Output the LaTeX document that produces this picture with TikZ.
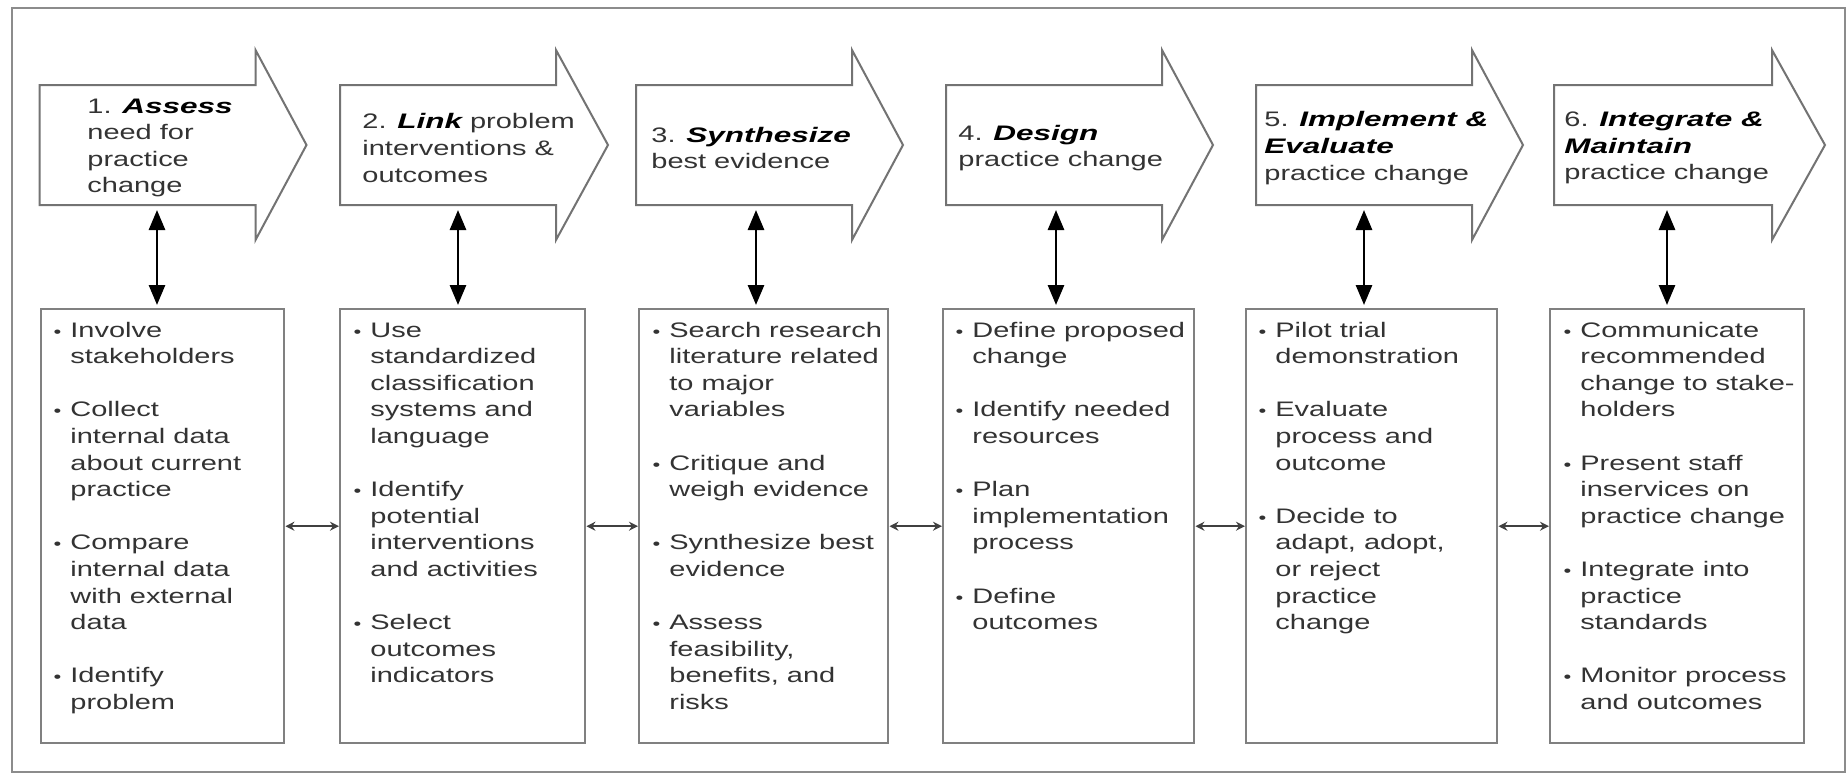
\documentclass[tikz,border=0pt]{standalone}
\usepackage{fontspec}
\setmainfont{Liberation Sans}[FakeStretch=1.38]
\newfontfamily\keyfont{Liberation Sans}[FakeStretch=1.5]
\usepackage{tikz}
\usetikzlibrary{arrows.meta}
\newcommand{\bul}{\llap{{\fontsize{8}{8}\selectfont\textbullet}\hspace{4.5pt}}}
\newcommand{\key}[1]{{\keyfont\bfseries\itshape\color{black}#1}}
\tikzset{
  font=\fontsize{10.5}{13.3}\selectfont,
  frame/.style={draw=black!45, line width=1pt},
  stepbody/.style={draw=black!55, line width=1pt, line join=miter},
  listbox/.style={draw=black!50, line width=1.2pt, rectangle, inner sep=0pt, anchor=north west},
  steptext/.style={anchor=west, align=left, inner sep=0pt, text=black!80},
  itemtext/.style={anchor=north west, align=left, inner sep=0pt, text=black!80},
  link/.style={draw=black, line width=1.4pt, {Triangle[length=10pt,width=8pt]}-{Triangle[length=10pt,width=8pt]}},
  pass/.style={draw=black!75, line width=0.9pt, {Stealth[length=4.5pt,width=4.5pt]}-{Stealth[length=4.5pt,width=4.5pt]}},
}
\begin{document}
\begin{tikzpicture}[x=0.5pt,y=-0.5pt]
\def\bh{217pt}
\def\gap{\\[13.3pt]}
\fill[white] (0,0) rectangle (1848,776);
\useasboundingbox (0,0) rectangle (1848,776);
% outer frame
\draw[frame] (12,8) rectangle (1845,772);
% step arrows
\draw[stepbody] (39.5,85) -- (255.5,85) -- (255.5,50) -- (306.5,145) -- (255.5,240) -- (255.5,205) -- (39.5,205) -- cycle;
\draw[stepbody] (340,85) -- (556,85) -- (556,50) -- (608,145) -- (556,240) -- (556,205) -- (340,205) -- cycle;
\draw[stepbody] (636,85) -- (852,85) -- (852,50) -- (903,145) -- (852,240) -- (852,205) -- (636,205) -- cycle;
\draw[stepbody] (946,85) -- (1162,85) -- (1162,50) -- (1213,145) -- (1162,240) -- (1162,205) -- (946,205) -- cycle;
\draw[stepbody] (1256,85) -- (1472,85) -- (1472,50) -- (1523,145) -- (1472,240) -- (1472,205) -- (1256,205) -- cycle;
\draw[stepbody] (1554,85) -- (1772,85) -- (1772,50) -- (1825,145) -- (1772,240) -- (1772,205) -- (1554,205) -- cycle;
\node[steptext] (step1) at (87,148) {1. \key{Assess}\\ need for\\ practice\\ change};
\node[steptext] (step2) at (362,148) {2. \key{Link} problem\\ interventions \&\\ outcomes};
\node[steptext] (step3) at (651,148) {3. \key{Synthesize}\\ best evidence};
\node[steptext] (step4) at (958,148) {4. \key{Design}\\ practice change};
\node[steptext] (step5) at (1264,148) {5. \key{Implement \&}\\ \key{Evaluate}\\ practice change};
\node[steptext] (step6) at (1564,148) {6. \key{Integrate \&}\\ \key{Maintain}\\ practice change};
\coordinate (foot1) at (157,205);
\coordinate (foot2) at (458,205);
\coordinate (foot3) at (756,205);
\coordinate (foot4) at (1056,205);
\coordinate (foot5) at (1364,205);
\coordinate (foot6) at (1667,205);
% activity boxes
\node[listbox, minimum width=121.75pt, minimum height=\bh] (box1) at (39.5,308) {};
\node[listbox, minimum width=122.5pt, minimum height=\bh] (box2) at (339,308) {};
\node[listbox, minimum width=124.5pt, minimum height=\bh] (box3) at (638,308) {};
\node[listbox, minimum width=125.5pt, minimum height=\bh] (box4) at (942,308) {};
\node[listbox, minimum width=125.5pt, minimum height=\bh] (box5) at (1245,308) {};
\node[listbox, minimum width=127pt, minimum height=\bh] (box6) at (1549,308) {};
\node[itemtext] (list1) at (70,318) {\strut\bul Involve\\ stakeholders\gap
  \bul Collect\\ internal data\\ about current\\ practice\gap
  \bul Compare\\ internal data\\ with external\\ data\gap
  \bul Identify\\ problem};
\node[itemtext] (list2) at (370,318) {\strut\bul Use\\ standardized\\ classification\\ systems and\\ language\gap
  \bul Identify\\ potential\\ interventions\\ and activities\gap
  \bul Select\\ outcomes\\ indicators};
\node[itemtext] (list3) at (669,318) {\strut\bul Search research\\ literature related\\ to major\\ variables\gap
  \bul Critique and\\ weigh evidence\gap
  \bul Synthesize best\\ evidence\gap
  \bul Assess\\ feasibility,\\ benefits, and\\ risks};
\node[itemtext] (list4) at (972,318) {\strut\bul Define proposed\\ change\gap
  \bul Identify needed\\ resources\gap
  \bul Plan\\ implementation\\ process\gap
  \bul Define\\ outcomes};
\node[itemtext] (list5) at (1275,318) {\strut\bul Pilot trial\\ demonstration\gap
  \bul Evaluate\\ process and\\ outcome\gap
  \bul Decide to\\ adapt, adopt,\\ or reject\\ practice\\ change};
\node[itemtext] (list6) at (1580,318) {\strut\bul Communicate\\ recommended\\ change to stake-\\ holders\gap
  \bul Present staff\\ inservices on\\ practice change\gap
  \bul Integrate into\\ practice\\ standards\gap
  \bul Monitor process\\ and outcomes};
% step to box links
\draw[link, shorten <=2.5pt, shorten >=1.5pt] (foot1) -- (foot1 |- box1.north);
\draw[link, shorten <=2.5pt, shorten >=1.5pt] (foot2) -- (foot2 |- box2.north);
\draw[link, shorten <=2.5pt, shorten >=1.5pt] (foot3) -- (foot3 |- box3.north);
\draw[link, shorten <=2.5pt, shorten >=1.5pt] (foot4) -- (foot4 |- box4.north);
\draw[link, shorten <=2.5pt, shorten >=1.5pt] (foot5) -- (foot5 |- box5.north);
\draw[link, shorten <=2.5pt, shorten >=1.5pt] (foot6) -- (foot6 |- box6.north);
% box to box
\draw[pass] (box1.east) -- (box2.west);
\draw[pass] (box2.east) -- (box3.west);
\draw[pass] (box3.east) -- (box4.west);
\draw[pass] (box4.east) -- (box5.west);
\draw[pass] (box5.east) -- (box6.west);
\end{tikzpicture}
\end{document}
